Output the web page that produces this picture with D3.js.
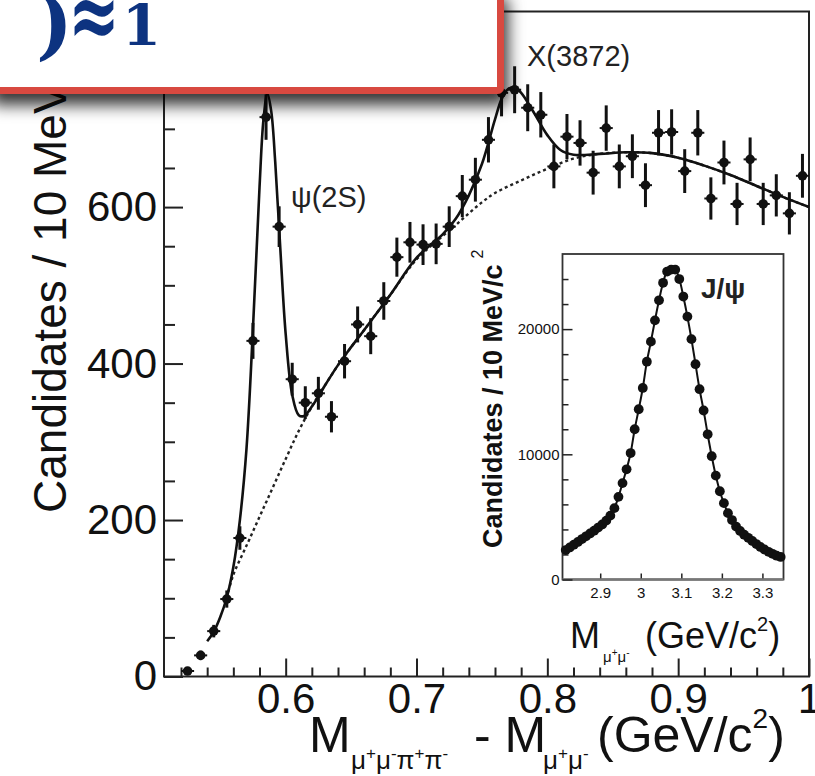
<!DOCTYPE html>
<html><head><meta charset="utf-8">
<script src="https://cdn.jsdelivr.net/npm/d3@7"></script>
<style>
html,body{margin:0;padding:0;background:#fff;}
svg{display:block;font-family:"Liberation Sans",Arial,Helvetica,sans-serif;}
</style></head><body>
<svg id="c" width="815" height="776"></svg>
<script>
// ---------------- data ----------------
// main plot: M(mu mu pi pi) - M(mu mu), 10 MeV bins
const binCenters = [0.525,0.535,0.545,0.555,0.565,0.575,0.585,0.595,0.605,0.615,0.625,0.635,0.645,0.655,0.665,0.675,0.685,0.695,0.705,0.715,0.725,0.735,0.745,0.755,0.765,0.775,0.785,0.795,0.805,0.815,0.825,0.835,0.845,0.855,0.865,0.875,0.885,0.895,0.905,0.915,0.925,0.935,0.945,0.955,0.965,0.975,0.985,0.995];
const candidates = [7,27,58,99,177,429,715,575,380,350,362,332,403,450,435,480,536,555,552,553,575,614,635,686,746,750,727,718,652,690,682,644,701,652,665,628,695,696,646,695,611,657,604,661,604,615,592,640];
const candErr = [3,6,8,11,15,23,29,26,21,21,21,20,22,23,23,24,25,26,26,26,26,27,28,29,30,30,30,29,28,29,29,28,29,28,28,28,29,29,28,29,27,28,27,28,27,27,27,28];
// fit (solid) and background (dashed)
const fitX = [0.540,0.545,0.550,0.555,0.560,0.565,0.570,0.575,0.580,0.583,0.586,0.589,0.592,0.596,0.600,0.605,0.610,0.614,0.620,0.630,0.640,0.650,0.660,0.680,0.700,0.720,0.730,0.740,0.750,0.760,0.765,0.770,0.775,0.780,0.790,0.800,0.810,0.820,0.840,0.860,0.880,0.900,0.920,0.940,0.960,0.980,1.000];
const fitY = [45,57,76,101,140,200,290,445,625,711,745,722,658,544,438,360,334,333,345,372,398,421,443,488,535,565,585,615,655,712,738,751,753,746,720,692,673,667,668,670,669,663,653,641,627,613,600];
const bgX = [0.555,0.560,0.570,0.580,0.590,0.600,0.610,0.620,0.630,0.640,0.650,0.660,0.680,0.700,0.720,0.730,0.740,0.750,0.760,0.780,0.800,0.820,0.840,0.860,0.880,0.900,0.920,0.940,0.960,0.980,1.000];
const bgY = [101,130,167,204,241,278,314,345,372,398,421,443,488,533,563,577,592,606,618,634,649,662,668,670,669,663,653,641,627,613,600];
// inset: J/psi peak in M(mu mu)
const jpsiMass = [2.815,2.825,2.835,2.845,2.855,2.865,2.875,2.885,2.895,2.905,2.915,2.925,2.935,2.945,2.955,2.965,2.975,2.985,2.995,3.005,3.015,3.025,3.035,3.045,3.055,3.065,3.075,3.085,3.095,3.105,3.115,3.125,3.135,3.145,3.155,3.165,3.175,3.185,3.195,3.205,3.215,3.225,3.235,3.245,3.255,3.265,3.275,3.285,3.295,3.305,3.315,3.325,3.335,3.345];
const jpsiCounts = [2350,2560,2780,3000,3230,3450,3680,3900,4150,4400,4700,5100,5700,6600,7700,8800,10100,12000,13600,15300,17400,19000,20700,22300,23700,24600,24750,24750,24000,22600,21000,19200,17200,15200,13500,11600,9850,8300,7050,6100,5300,4750,4230,3880,3580,3330,3080,2830,2600,2400,2210,2050,1900,1800];
// ticks
const xMajor = [0.6,0.7,0.8,0.9,1.0];
const xMinor = [0.52,0.54,0.56,0.58,0.62,0.64,0.66,0.68,0.72,0.74,0.76,0.78,0.82,0.84,0.86,0.88,0.92,0.94,0.96,0.98];
const yMajor = [0,200,400,600,800];
const yMinor = [50,100,150,250,300,350,450,500,550,650,700,750];
const inYMajor = [0,10000,20000];
const inYMinor = [2000,4000,6000,8000,12000,14000,16000,18000,22000,24000];
const inXMajor = [2.9,3.0,3.1,3.2,3.3];

// ---------------- drawing ----------------
const svg = d3.select('#c');
const ink = '#111';
const x = d3.scaleLinear().domain([0.507,1.0]).range([164,809]);
const y = d3.scaleLinear().domain([0,850]).range([676.5,11.5]);

// frame
svg.append('rect').attr('x',x(0.507)).attr('y',y(850)).attr('width',x(1)-x(0.507)).attr('height',y(0)-y(850))
  .attr('fill','none').attr('stroke','#222').attr('stroke-width',2);

function styleAxis(g,fs){
  g.select('.domain').remove();
  g.selectAll('line').attr('stroke','#222').attr('stroke-width',2);
  g.selectAll('text').attr('font-size',fs).attr('fill',ink).attr('font-family','"Liberation Sans",Arial,sans-serif');
}
const gx = svg.append('g').attr('transform',`translate(0,${y(0)})`)
  .call(d3.axisBottom(x).tickValues(xMajor).tickSizeInner(-18).tickSizeOuter(0).tickPadding(7).tickFormat(d=>String(+d.toFixed(1))));
styleAxis(gx,42);
const gxm = svg.append('g').attr('transform',`translate(0,${y(0)})`)
  .call(d3.axisBottom(x).tickValues(xMinor).tickSizeInner(-9).tickSizeOuter(0).tickFormat(''));
styleAxis(gxm,10);
const gy = svg.append('g').attr('transform',`translate(${x(0.507)},0)`)
  .call(d3.axisLeft(y).tickValues(yMajor).tickSizeInner(-19).tickSizeOuter(0).tickPadding(7).tickFormat(d3.format('d')));
styleAxis(gy,42);
const gym = svg.append('g').attr('transform',`translate(${x(0.507)},0)`)
  .call(d3.axisLeft(y).tickValues(yMinor).tickSizeInner(-11).tickSizeOuter(0).tickFormat(''));
styleAxis(gym,10);

// background (dashed) and fit (solid)
const bgPts = bgX.map((v,i)=>[v,bgY[i]]);
const fitPts = fitX.map((v,i)=>[v,fitY[i]]);
const ln = d3.line().x(d=>x(d[0])).y(d=>y(d[1])).curve(d3.curveCatmullRom.alpha(0.5));
svg.append('path').attr('d',ln(bgPts)).attr('fill','none').attr('stroke','#222').attr('stroke-width',2.4).attr('stroke-dasharray','3,3');
svg.append('path').attr('d',ln(fitPts)).attr('fill','none').attr('stroke',ink).attr('stroke-width',2.6);

// data points
const pts = binCenters.map((v,i)=>({m:v,n:candidates[i],e:candErr[i]}));
const gp = svg.append('g');
gp.selectAll('line.ev').data(pts).join('line').attr('class','ev')
  .attr('x1',d=>x(d.m)).attr('x2',d=>x(d.m)).attr('y1',d=>y(d.n-d.e)).attr('y2',d=>y(d.n+d.e))
  .attr('stroke',ink).attr('stroke-width',3);
gp.selectAll('line.eh').data(pts).join('line').attr('class','eh')
  .attr('x1',d=>x(d.m-0.005)).attr('x2',d=>x(d.m+0.005)).attr('y1',d=>y(d.n)).attr('y2',d=>y(d.n))
  .attr('stroke',ink).attr('stroke-width',2);
gp.selectAll('circle').data(pts).join('circle')
  .attr('cx',d=>x(d.m)).attr('cy',d=>y(d.n)).attr('r',4.8).attr('fill',ink);

// peak labels
svg.append('text').attr('x',291).attr('y',207).attr('font-size',29).attr('fill','#222').text('ψ(2S)');
svg.append('text').attr('x',527).attr('y',66).attr('font-size',29).attr('fill','#222').text('X(3872)');

// main axis titles
const xt = svg.append('text').attr('y',752).attr('fill',ink).attr('font-size',50);
xt.append('tspan').attr('x',309).text('M');
xt.append('tspan').attr('x',351).attr('y',769).attr('font-size',26).text('μ');
xt.append('tspan').attr('dy',-10).attr('font-size',17).text('+');
xt.append('tspan').attr('dy',10).attr('font-size',26).text('μ');
xt.append('tspan').attr('dy',-10).attr('font-size',17).text('-');
xt.append('tspan').attr('dy',10).attr('font-size',26).text('π');
xt.append('tspan').attr('dy',-10).attr('font-size',17).text('+');
xt.append('tspan').attr('dy',10).attr('font-size',26).text('π');
xt.append('tspan').attr('dy',-10).attr('font-size',17).text('-');
xt.append('tspan').attr('x',474).attr('y',752).attr('font-size',50).text('- M');
xt.append('tspan').attr('x',543).attr('y',769).attr('font-size',26).text('μ');
xt.append('tspan').attr('dy',-10).attr('font-size',17).text('+');
xt.append('tspan').attr('dy',10).attr('font-size',26).text('μ');
xt.append('tspan').attr('dy',-10).attr('font-size',17).text('-');
xt.append('tspan').attr('x',597).attr('y',752).attr('font-size',50).text('(GeV/c');
xt.append('tspan').attr('y',728).attr('font-size',28).text('2');
xt.append('tspan').attr('y',752).attr('font-size',50).text(')');

const yt = svg.append('text').attr('transform','translate(66,513) rotate(-90)').attr('fill',ink).attr('font-size',46);
yt.append('tspan').text('Candidates / 10 MeV/c');
yt.append('tspan').attr('dy',-18).attr('font-size',26).text('2');

// ---------------- inset ----------------
const ix = d3.scaleLinear().domain([2.807,3.352]).range([562.5,783.5]);
const iy = d3.scaleLinear().domain([0,26000]).range([579.5,254]);
svg.append('rect').attr('x',ix(2.807)).attr('y',iy(26000)).attr('width',ix(3.352)-ix(2.807)).attr('height',iy(0)-iy(26000))
  .attr('fill','#fff').attr('stroke','#333').attr('stroke-width',1.8);
const igx = svg.append('g').attr('transform',`translate(0,${iy(0)})`)
  .call(d3.axisBottom(ix).tickValues(inXMajor).tickSizeInner(-6).tickSizeOuter(0).tickPadding(8).tickFormat(d=>String(+d.toFixed(1))));
styleAxis(igx,15);
igx.selectAll('line').attr('stroke-width',1.5);
svg.append('line').attr('x1',ix(2.807)).attr('x2',ix(3.352)).attr('y1',iy(0)).attr('y2',iy(0)).attr('stroke','#777').attr('stroke-width',2.5);
const igy = svg.append('g').attr('transform',`translate(${ix(2.807)},0)`)
  .call(d3.axisLeft(iy).tickValues(inYMajor).tickSizeInner(-10).tickSizeOuter(0).tickPadding(3).tickFormat(d3.format('d')));
styleAxis(igy,15);
igy.selectAll('line').attr('stroke-width',1.5);
const igym = svg.append('g').attr('transform',`translate(${ix(2.807)},0)`)
  .call(d3.axisLeft(iy).tickValues(inYMinor).tickSizeInner(-6).tickSizeOuter(0).tickFormat(''));
styleAxis(igym,10);
igym.selectAll('line').attr('stroke-width',1.5);

const jp = jpsiMass.map((v,i)=>[v,jpsiCounts[i]]);
const iln = d3.line().x(d=>ix(d[0])).y(d=>iy(d[1])).curve(d3.curveCatmullRom.alpha(0.5));
svg.append('path').attr('d',iln(jp)).attr('fill','none').attr('stroke',ink).attr('stroke-width',2);
svg.append('g').selectAll('circle').data(jp).join('circle')
  .attr('cx',d=>ix(d[0])).attr('cy',d=>iy(d[1])).attr('r',4.9).attr('fill',ink);

svg.append('text').attr('x',701).attr('y',298).attr('font-size',28).attr('font-weight','bold').attr('fill','#222').text('J/ψ');

const ixt = svg.append('text').attr('y',648).attr('fill',ink).attr('font-size',36);
ixt.append('tspan').attr('x',570).text('M');
ixt.append('tspan').attr('x',603).attr('y',662).attr('font-size',15).text('μ');
ixt.append('tspan').attr('dy',-6).attr('font-size',10).text('+');
ixt.append('tspan').attr('dy',6).attr('font-size',15).text('μ');
ixt.append('tspan').attr('dy',-6).attr('font-size',10).text('-');
ixt.append('tspan').attr('x',645).attr('y',648).attr('font-size',36).text('(GeV/c');
ixt.append('tspan').attr('y',631).attr('font-size',20).text('2');
ixt.append('tspan').attr('y',648).attr('font-size',36).text(')');

const iyt = svg.append('text').attr('transform','translate(502,548) rotate(-90)').attr('fill',ink).attr('font-size',27).attr('font-weight','bold');
iyt.append('tspan').text('Candidates / 10 MeV/c');
iyt.append('tspan').attr('dx',6).attr('dy',-19).attr('font-size',16).attr('font-weight','normal').text('2');

// ---------------- slide overlay box ----------------
const defs = svg.append('defs');
const f = defs.append('filter').attr('id','sh').attr('x','-20%').attr('y','-30%').attr('width','140%').attr('height','200%');
f.append('feDropShadow').attr('dx',4).attr('dy',11).attr('stdDeviation',8).attr('flood-color','#000').attr('flood-opacity',0.8);
svg.append('rect').attr('x',-10).attr('y',-10).attr('width',510.5).attr('height',100.5).attr('rx',3)
  .attr('fill','#fff').attr('stroke','#d8483f').attr('stroke-width',7).attr('filter','url(#sh)');
const boxFont = '"DejaVu Serif",serif';
svg.append('text').attr('x',36).attr('y',50).attr('font-family',boxFont).attr('font-weight','bold')
  .attr('font-size',78).attr('fill','#0d3380').text(')');
svg.append('text').attr('transform','translate(68,47) scale(1,1.5)').attr('font-family',boxFont).attr('font-weight','bold')
  .attr('font-size',62).attr('fill','#0d3380').text('≈');
svg.append('text').attr('x',122).attr('y',45).attr('font-family',boxFont).attr('font-weight','bold')
  .attr('font-size',56).attr('fill','#0d3380').text('1');
</script>
</body></html>
